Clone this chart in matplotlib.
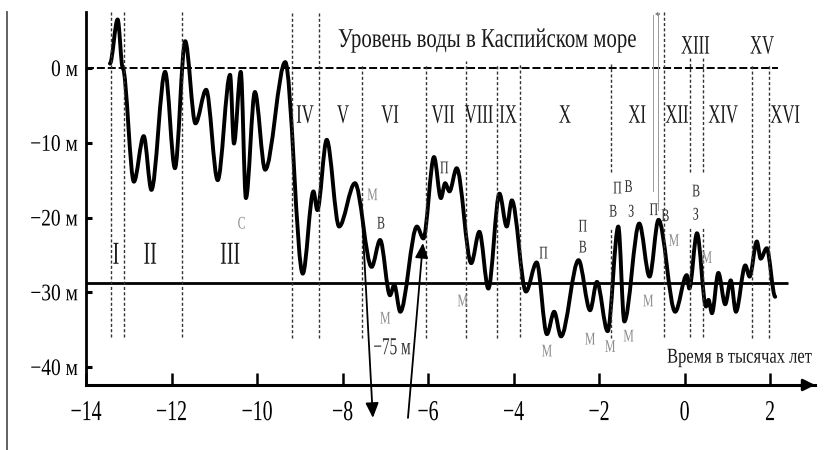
import matplotlib
matplotlib.use('Agg')
import matplotlib.pyplot as plt
from matplotlib.patheffects import AbstractPathEffect
from matplotlib.transforms import Affine2D
from matplotlib.lines import Line2D
from matplotlib.path import Path
from matplotlib.patches import PathPatch

plt.rcParams['font.family'] = ['Liberation Serif', 'DejaVu Serif']

# ---------------- data ----------------
time_kyr = [-13.44, -13.26, -13.14, -12.88, -12.65, -12.47, -12.15, -11.92, -11.68, -11.44,
            -11.19, -10.92, -10.63, -10.54, -10.38, -10.26, -10.05, -9.81, -9.34, -8.93,
            -8.68, -8.59, -8.37, -8.08, -7.71, -7.32, -7.12, -6.89, -6.79, -6.65,
            -6.26, -6.11, -5.86, -5.70, -5.60, -5.50, -5.33, -4.99, -4.80, -4.59,
            -4.33, -4.16, -4.04, -3.71, -3.46, -3.22, -3.05, -2.89, -2.48, -2.21,
            -2.05, -1.80, -1.55, -1.41, -1.06, -0.82, -0.61, -0.22, 0.05, 0.11,
            0.29, 0.50, 0.56, 0.64, 0.79, 0.95, 1.08, 1.20, 1.42, 1.52,
            1.69, 1.78, 1.92, 2.12]
level_m = [0.6, 6.5, 0.0, -15.2, -9.1, -16.3, -0.5, -13.4, 3.6, -7.4,
           -2.9, -15.0, -0.9, -10.1, -0.5, -17.4, -3.2, -13.6, 0.8, -27.5,
           -16.5, -19.0, -9.6, -21.2, -15.4, -26.6, -23.0, -30.4, -29.0, -32.6,
           -21.2, -22.8, -11.9, -17.4, -15.4, -16.5, -13.4, -26.1, -21.9, -29.5,
           -16.8, -21.2, -17.7, -29.9, -26.0, -35.6, -32.6, -35.9, -25.7, -32.4,
           -28.6, -35.2, -21.2, -33.9, -20.8, -27.9, -20.3, -32.6, -27.7, -29.5,
           -22.1, -31.9, -31.0, -32.8, -27.4, -31.6, -28.4, -32.6, -26.4, -27.9,
           -23.2, -25.5, -24.1, -30.6]

# stage boundaries: x, top, bottom (some are split into two pieces)
bound_x = [-13.42, -13.11, -11.75, -9.18, -8.55, -7.54, -6.05, -5.11, -4.39, -3.85,
           -1.72, -1.72, -0.48, 0.13, 0.13, 0.43, 0.43, 1.58, 1.98]
bound_top = [7.5, 7.5, 7.5, 7.5, 7.5, 0.6, 0.6, 1.0, 0.6, 0.6,
             0.6, -21.4, 7.5, 1.3, -21.4, 1.3, -21.4, 0.6, 0.6]
bound_bottom = [-36.0, -36.0, -36.0, -36.1, -36.1, -36.1, -36.1, -36.1, -36.1, -36.0,
                -13.9, -36.1, -36.0, -13.9, -36.0, -13.9, -36.0, -36.1, -36.1]

stage_names = ['I', 'II', 'III', 'IV', 'V', 'VI', 'VII', 'VIII', 'IX', 'X',
               'XI', 'XII', 'XIII', 'XIV', 'XV', 'XVI']
stage_x = [-13.30, -12.50, -10.63, -8.88, -7.99, -6.89, -5.65, -4.81, -4.13, -2.80,
           -1.11, -0.18, 0.25, 0.90, 1.81, 2.35]
stage_y = [-24.7, -24.7, -24.7, -6.06, -6.06, -6.06, -6.06, -6.06, -6.06, -6.06,
           -6.06, -6.06, 3.19, -6.06, 3.19, -6.06]

min_x = [-7.30, -7.00, -5.19, -3.22, -2.21, -1.74, -1.31, -0.85, -0.25, 0.52]
min_y = [-16.8, -33.3, -31.0, -37.7, -36.1, -37.1, -35.7, -31.0, -22.9, -25.2]

mark_text = ['В', 'П', 'П', 'П', 'В', 'П', 'В', 'В', 'З', 'П', 'В', 'В', 'З']
mark_x = [-7.10, -5.62, -3.30, -2.38, -2.38, -1.57, -1.67, -1.31, -1.25, -0.72, -0.45, 0.27, 0.26]
mark_y = [-20.6, -13.2, -24.6, -21.0, -23.8, -15.9, -19.0, -15.7, -19.0, -18.8, -19.6, -16.3, -19.4]

xticks = [-14, -12, -10, -8, -6, -4, -2, 0, 2]
xticklabels = ['−14', '−12', '−10', '−8', '−6', '−4', '−2', '0', '2']
yticks = [0, -10, -20, -30, -40]
yticklabels = ['0 м', '−10 м', '−20 м', '−30 м', '−40 м']

ref_level = -28.8


class VStretch(AbstractPathEffect):
    """Stretch glyphs vertically around the middle of the capital height."""
    def __init__(self, sy, yc=34.0):
        super().__init__()
        self.t = Affine2D().translate(0, -yc).scale(1.0, sy).translate(0, yc)

    def draw_path(self, renderer, gc, tpath, affine, rgbFace=None):
        renderer.draw_path(gc, tpath, self.t + affine, rgbFace)


fig = plt.figure(figsize=(8.32, 4.5), dpi=100)
ax = fig.add_axes([86 / 832, 65 / 450, (815 - 86) / 832, (385 - 12) / 450])
ax.set_xlim(-14, 3.05)
ax.set_ylim(-42.4, 7.5)

for s in ['top', 'right']:
    ax.spines[s].set_visible(False)
ax.spines['left'].set_linewidth(2.0)
ax.spines['bottom'].set_linewidth(2.2)

# x axis arrow head
ax.annotate('', xy=(1.0, 0), xytext=(0.985, 0), xycoords='axes fraction',
            arrowprops=dict(arrowstyle='-|>,head_length=0.7,head_width=0.35',
                            color='black', lw=2.0, shrinkA=0, shrinkB=0),
            annotation_clip=False)

ax.set_xticks(xticks)
ax.set_xticklabels(xticklabels)
ax.set_yticks(yticks)
ax.set_yticklabels(yticklabels)
ax.tick_params(axis='x', direction='in', length=8.6, width=1.8, pad=13, labelsize=14.3)
ax.tick_params(axis='y', direction='in', length=4.3, width=2.2, pad=5.8, labelsize=14)
for lab in ax.get_xticklabels():
    lab.set_path_effects([VStretch(1.45)])
for lab in ax.get_yticklabels():
    lab.set_path_effects([VStretch(1.22)])

# zero level dashed line and reference solid line
ax.plot([-14, 2.19], [0, 0], color='black', lw=1.4, dashes=(4.1, 1.5))
ax.plot([-14, 2.42], [ref_level, ref_level], color='black', lw=2.0, solid_capstyle='butt')

# stage boundaries
for x, t, b in zip(bound_x, bound_top, bound_bottom):
    ax.plot([x, x], [b, t], color='#333333', lw=1.0, dashes=(2.2, 1.6))

# thin grey marker line with asterisk
ax.plot([-0.74, -0.74], [7.1, -16.4], color='#9a9a9a', lw=0.7)
ax.plot([-0.62, -0.62], [7.1, -19.0], color='#9a9a9a', lw=0.7)
ax.text(-0.64, 7.0, '*', fontsize=8, ha='center', va='center', color='#444444')

# level curve: smooth Bezier path through the read extrema (horizontal tangents)
verts = [(time_kyr[0], level_m[0])]
codes = [Path.MOVETO]
for (x0, y0), (x1, y1) in zip(zip(time_kyr[:-1], level_m[:-1]), zip(time_kyr[1:], level_m[1:])):
    d = (x1 - x0) / 3.0
    verts += [(x0 + d, y0), (x1 - d, y1), (x1, y1)]
    codes += [Path.CURVE4, Path.CURVE4, Path.CURVE4]
curve = PathPatch(Path(verts, codes), facecolor='none', edgecolor='black', lw=2.8,
                  joinstyle='round', capstyle='round', transform=ax.transData)
ax.add_patch(curve)

# arrows to -75 m
ax.annotate('', xy=(-7.29, -46.8), xytext=(-7.56, -18.0), xycoords='data',
            arrowprops=dict(arrowstyle='-|>,head_length=0.5,head_width=0.22', color='black',
                            lw=1.3, shrinkA=0, shrinkB=0, mutation_scale=18),
            annotation_clip=False)
ax.annotate('', xy=(-6.12, -23.4), xytext=(-6.47, -46.8), xycoords='data',
            arrowprops=dict(arrowstyle='-|>,head_length=0.5,head_width=0.22', color='black',
                            lw=1.3, shrinkA=0, shrinkB=0, mutation_scale=18),
            annotation_clip=False)

# texts
ax.text(-4.61, 4.08, 'Уровень воды в Каспийском море', fontsize=15, ha='center',
        va='center_baseline', color='#1a1a1a', path_effects=[VStretch(1.3)])
ax.text(-0.41, -38.4, 'Время в тысячах лет', fontsize=11.9, ha='left',
        va='center_baseline', color='#1a1a1a', path_effects=[VStretch(1.28)])
ax.text(-7.28, -37.2, '−75 м', fontsize=11, ha='left', va='center_baseline',
        color='#333333', path_effects=[VStretch(1.6)])

for name, x, y in zip(stage_names, stage_x, stage_y):
    fs = 14.4 if y < -20 else 12
    ax.text(x, y, name, fontsize=fs, ha='center', va='center_baseline',
            color='#1a1a1a', path_effects=[VStretch(1.6)])

for x, y in zip(min_x, min_y):
    ax.text(x, y, 'М', fontsize=8.5, ha='center', va='center_baseline',
            color='#8c8c8c', path_effects=[VStretch(1.5)])
ax.text(-10.36, -20.6, 'С', fontsize=8.5, ha='center', va='center_baseline',
        color='#8c8c8c', path_effects=[VStretch(1.5)])

for s, x, y in zip(mark_text, mark_x, mark_y):
    ax.text(x, y, s, fontsize=8.6, ha='center', va='center_baseline',
            color='#333333', path_effects=[VStretch(1.5)])

# page border line at far left
fig.add_artist(Line2D([7 / 832, 7 / 832], [0, 1 - 12 / 450], color='#555555', lw=1.3))

fig.savefig('out.png', dpi=100)
